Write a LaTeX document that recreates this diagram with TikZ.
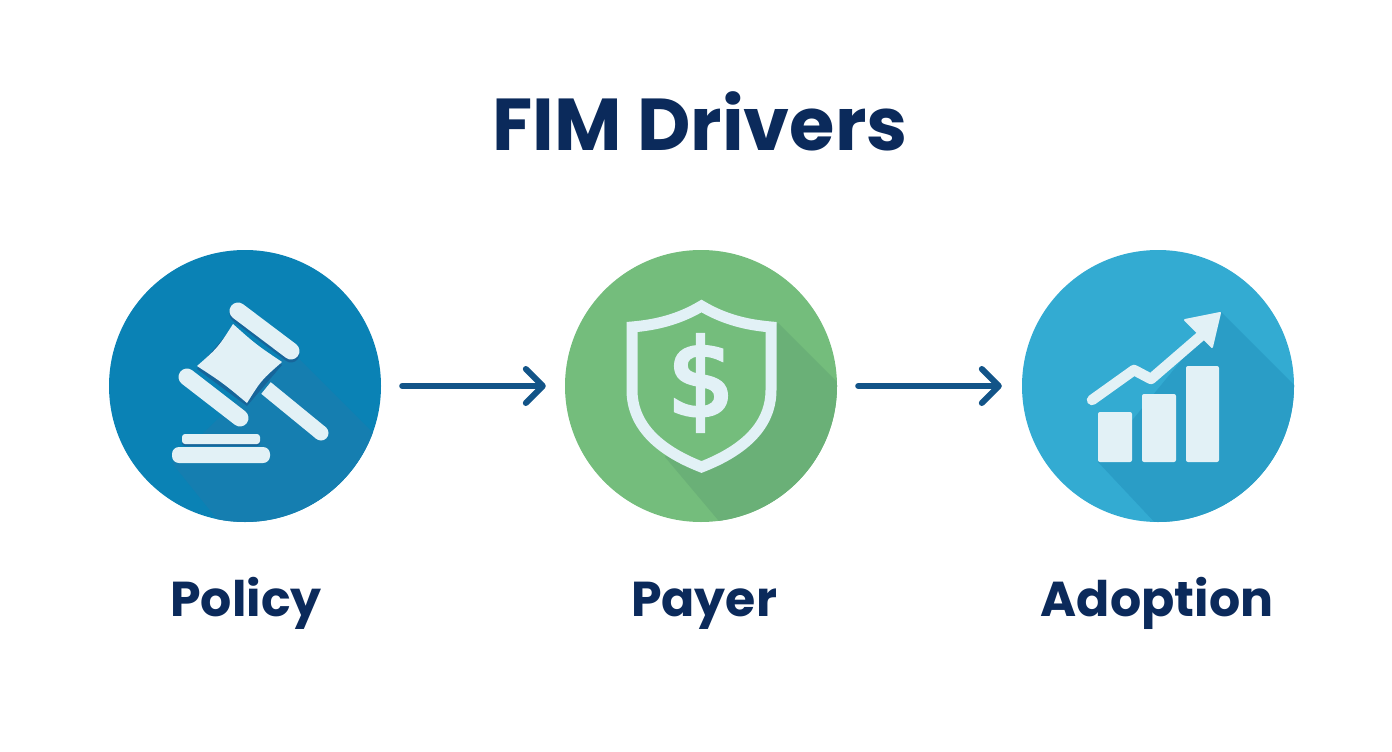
\documentclass[tikz,border=0pt]{standalone}
\usepackage{fontspec}
\setmainfont{Poppins}
\newfontfamily\dollarfont[FakeBold=4]{DejaVu Sans}
\usetikzlibrary{arrows.meta}
\definecolor{navytext}{HTML}{0B2A5B}
\definecolor{arrowblue}{HTML}{125488}
\definecolor{iconwhite}{HTML}{E2F1F6}
\definecolor{policyblue}{HTML}{0A82B5}
\definecolor{policyshade}{HTML}{157EB0}
\definecolor{gavelshade}{HTML}{17659A}
\definecolor{payergreen}{HTML}{74BD7C}
\definecolor{payershade}{HTML}{6AB077}
\definecolor{adoptblue}{HTML}{33ABD2}
\definecolor{adoptshade}{HTML}{2A9DC6}
\tikzset{
	drivercircle/.style={circle,minimum size=272pt,inner sep=0pt},
	drivertitle/.style={text=navytext,font=\fontsize{73.5}{80}\selectfont\bfseries},
	driverlabel/.style={text=navytext,font=\fontsize{49}{56}\selectfont\bfseries},
	driverarrow/.style={draw=arrowblue,line width=6pt,line cap=round,-{Straight Barb[length=17pt,width=34pt,line width=6pt,round]}},
	iconbar/.style={draw=iconwhite,line cap=round},
}
\begin{document}
\begin{tikzpicture}[x=1pt,y=-1pt]
	\useasboundingbox (0,0) rectangle (1392,752);

	\node[drivertitle,anchor=base] (title) at (700,150) {FIM Drivers};

	\node[drivercircle,fill=policyblue] (policy) at (245,386) {};
	\node[drivercircle,fill=payergreen] (payer) at (701,386) {};
	\node[drivercircle,fill=adoptblue] (adoption) at (1158,386) {};

	\begin{scope}
		\clip (policy.center) circle (136);
		\fill[policyshade] (290,350) -- (400,460) -- (400,560) -- (250,560) -- (172,463) -- cycle;
	\end{scope}
	\begin{scope}
		\clip (payer.center) circle (136);
		\fill[payershade] (778,323) -- (900,445) -- (900,560) -- (745,552) -- (665,457) -- cycle;
	\end{scope}
	\begin{scope}
		\clip (adoption.center) circle (136);
		\fill[adoptshade] (1221,312) -- (1340,431) -- (1340,560) -- (1190,560) -- (1098,462) -- cycle;
	\end{scope}

	\draw[draw=gavelshade,line width=17pt,line cap=round] (238,314) -- (291,354);
	\fill[gavelshade] (197,369) -- (233,327) -- (282,365) -- (247,406) -- cycle;
	\draw[iconbar,line width=17pt] (238,311) -- (291,351);
	\draw[iconbar,line width=17pt] (187,377) -- (240,418);
	\draw[draw=iconwhite,line width=15pt] (266,388) -- (321,433);
	\fill[iconwhite] (321,433) circle (7.5);
	\fill[iconwhite] (233,324) .. controls (256,344.5) .. (282,362) .. controls (261.4,380) .. (247,403) .. controls (223,383) .. (197,366) .. controls (218,347.6) .. (233,324) -- cycle;
	\fill[gavelshade,rounded corners=3pt] (182,436) rectangle (260,446);
	\fill[iconwhite,rounded corners=3pt] (182,434) rectangle (260,444);
	\fill[iconwhite,rounded corners=7pt] (172,447) rectangle (270,463);

	\draw[draw=iconwhite,fill=payergreen,line width=11pt,miter limit=10] (701.5,306) .. controls (725,320) and (748,325) .. (771,327) -- (771,390) .. controls (771,425) and (745,450) .. (701.5,467) .. controls (658,450) and (632,425) .. (632,390) -- (632,327) .. controls (655,325) and (678,320) .. (701.5,306) -- cycle;
	\node[text=iconwhite,font=\fontsize{106}{110}\dollarfont,inner sep=0pt] (dollar) at (701,383) {\$};

	\fill[iconwhite,rounded corners=2pt] (1098,412) rectangle (1132,462);
	\fill[iconwhite,rounded corners=2pt] (1142,394) rectangle (1176,462);
	\fill[iconwhite,rounded corners=2pt] (1186,366) rectangle (1219,462);
	\draw[iconbar,line width=10.5pt,line join=round] (1092,400) -- (1134,370) -- (1151,379) -- (1202,335);
	\fill[iconwhite,draw=iconwhite,line width=2pt,line join=round] (1220,313) -- (1185,320) -- (1212,347) -- cycle;

	\draw[driverarrow,shorten <=21pt,shorten >=19pt] (policy.east) -- (payer.west);
	\draw[driverarrow,shorten <=21pt,shorten >=20pt] (payer.east) -- (adoption.west);

	\node[driverlabel,anchor=base] (policylabel) at (246,616) {Policy};
	\node[driverlabel,anchor=base] (payerlabel) at (704,616) {Payer};
	\node[driverlabel,anchor=base] (adoptionlabel) at (1157,616) {Adoption};
\end{tikzpicture}
\end{document}
